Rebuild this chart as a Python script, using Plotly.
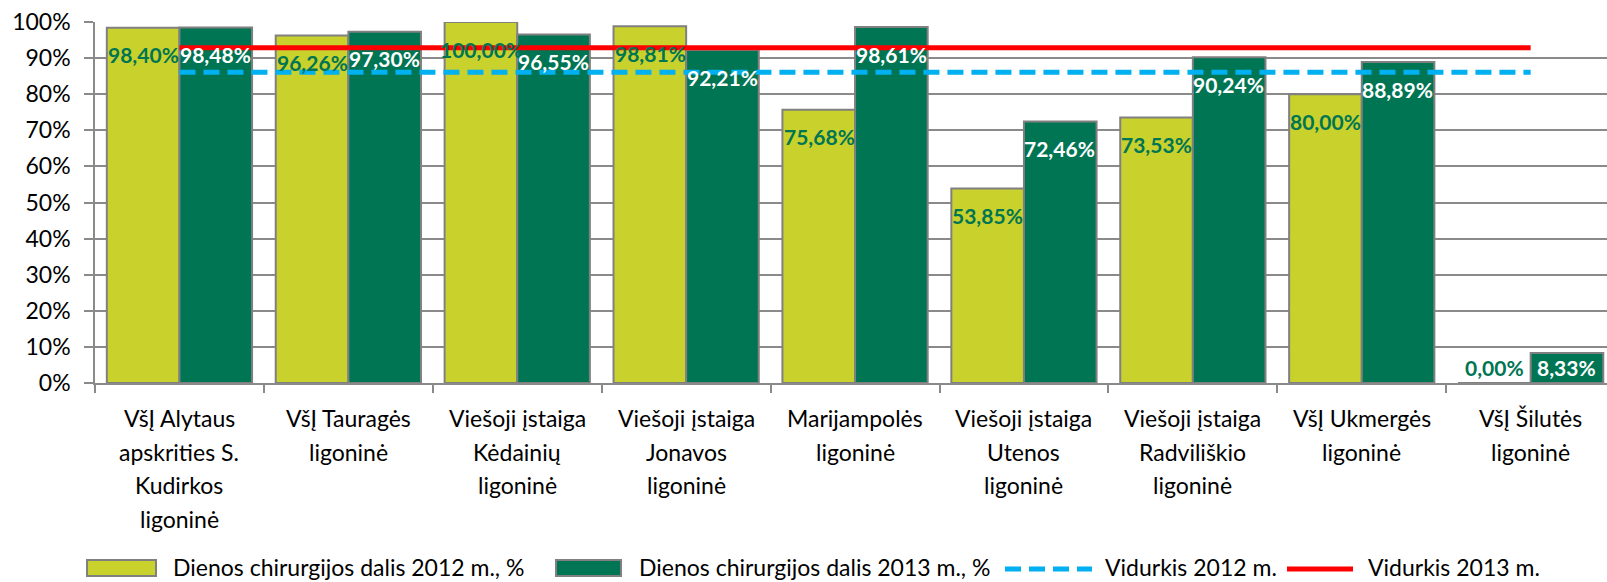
import plotly.graph_objects as go

categories = [
    "VšĮ Alytaus<br>apskrities S.<br>Kudirkos<br>ligoninė",
    "VšĮ Tauragės<br>ligoninė",
    "Viešoji įstaiga<br>Kėdainių<br>ligoninė",
    "Viešoji įstaiga<br>Jonavos<br>ligoninė",
    "Marijampolės<br>ligoninė",
    "Viešoji įstaiga<br>Utenos<br>ligoninė",
    "Viešoji įstaiga<br>Radviliškio<br>ligoninė",
    "VšĮ Ukmergės<br>ligoninė",
    "VšĮ Šilutės<br>ligoninė",
]
share_2012 = [98.40, 96.26, 100.00, 98.81, 75.68, 53.85, 73.53, 80.00, 0.00]
share_2013 = [98.48, 97.30, 96.55, 92.21, 98.61, 72.46, 90.24, 88.89, 8.33]
avg_2012 = 86.1
avg_2013 = 92.9
y_ticks = [0, 10, 20, 30, 40, 50, 60, 70, 80, 90, 100]
y_tick_labels = [f"{v}%" for v in y_ticks]

names = ["Dienos chirurgijos dalis 2012 m., %", "Dienos chirurgijos dalis 2013 m., %",
         "Vidurkis 2012 m.", "Vidurkis 2013 m."]

C12 = "#C9D12C"
C13 = "#007553"
BLUE = "#00B0F0"
RED = "#FF0000"
GRID = "#8A8A8A"
EDGE = "#808080"
FONT = "Lato"

W_PX, H_PX = 1607, 582
L, T, B = 95, 22, 199
PW = W_PX - L
PH = H_PX - T - B


def px_x(px):
    return (px - L) / PW


def px_y(py):
    return (H_PX - B - py) / PH


fig = go.Figure()
fig.add_trace(go.Bar(x=categories, y=share_2012, name=names[0],
                     marker=dict(color=C12, line=dict(color=EDGE, width=2))))
fig.add_trace(go.Bar(x=categories, y=share_2013, name=names[1],
                     marker=dict(color=C13, line=dict(color=EDGE, width=2))))
fig.add_trace(go.Scatter(x=categories, y=[avg_2012] * len(categories), name=names[2], mode="lines",
                         line=dict(color=BLUE, width=5, dash="16px,8px")))
fig.add_trace(go.Scatter(x=categories, y=[avg_2013] * len(categories), name=names[3], mode="lines",
                         line=dict(color=RED, width=5)))


def fmt(v):
    return f"{v:.2f}".replace(".", ",") + "%"


ann = []
for cat, v12, v13 in zip(categories, share_2012, share_2013):
    for v, shift, col in ((v12, -36, C13), (v13, 36, "white")):
        if v < 12:
            y, ys = 0, 16
        else:
            y, ys = v, -27
        ann.append(dict(x=cat, y=y, xref="x", yref="y", xshift=shift, yshift=ys, text=fmt(v),
                        showarrow=False, yanchor="middle", xanchor="center",
                        font=dict(family=FONT, size=21, color=col, weight="bold")))
    for i, line in enumerate(cat.split("<br>")):
        ann.append(dict(x=cat, y=0, xref="x", yref="y", yshift=-(35 + 33.7 * i), text=line,
                        showarrow=False, yanchor="middle", xanchor="center",
                        font=dict(family=FONT, size=23, color="black")))

# custom legend (wide swatches as in the reference)
shapes = []
leg_y = px_y(567)
legend_items = [
    ("rect", C12, 87, 156, 171),
    ("rect", C13, 556, 621, 637),
    ("dash", BLUE, 1005, 1092, 1103),
    ("line", RED, 1287, 1353, 1366),
]
for (kind, col, x0, x1, tx), label in zip(legend_items, names):
    if kind == "rect":
        shapes.append(dict(type="rect", xref="paper", yref="paper",
                           x0=px_x(x0), x1=px_x(x1), y0=px_y(576), y1=px_y(560),
                           fillcolor=col, line=dict(color=EDGE, width=2)))
    else:
        shapes.append(dict(type="line", xref="paper", yref="paper",
                           x0=px_x(x0), x1=px_x(x1), y0=px_y(569), y1=px_y(569),
                           line=dict(color=col, width=5, dash="16px,8px" if kind == "dash" else "solid")))
    ann.append(dict(x=px_x(tx), y=leg_y, xref="paper", yref="paper", text=label, showarrow=False,
                    xanchor="left", yanchor="middle", font=dict(family=FONT, size=23, color="black")))

fig.update_layout(
    width=W_PX, height=H_PX,
    margin=dict(l=L, r=0, t=T, b=B, autoexpand=False),
    paper_bgcolor="white", plot_bgcolor="white",
    barmode="group", bargap=0.14, bargroupgap=0,
    font=dict(family=FONT, size=23, color="black"),
    showlegend=False,
    annotations=ann,
    shapes=shapes,
)
fig.update_xaxes(type="category", range=[-0.5, 8.452], showticklabels=False,
                 ticks="outside", tickson="boundaries", ticklen=8, tickcolor=GRID, tickwidth=1.5,
                 showline=True, linecolor=GRID, linewidth=1.5, showgrid=False, zeroline=False)
fig.update_yaxes(range=[0, 100], tickmode="array", tickvals=y_ticks, ticktext=y_tick_labels,
                 ticks="outside", ticklen=9,
                 tickcolor=GRID, tickwidth=1.5, showline=True, linecolor=GRID, linewidth=1.5,
                 showgrid=True, gridcolor=GRID, gridwidth=1.5, zeroline=False,
                 ticklabelstandoff=9, tickfont=dict(family=FONT, size=23, color="black"))

fig.write_html("out.html", config={"displayModeBar": False},
               post_script="document.body.style.margin='0';document.body.style.overflow='hidden';")
